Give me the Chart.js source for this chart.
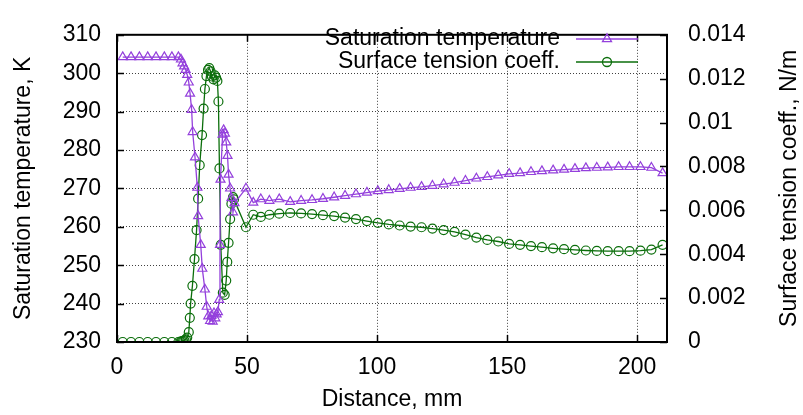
<!DOCTYPE html>
<html>
<head>
<meta charset="utf-8">
<script src="https://cdn.jsdelivr.net/npm/chart.js@4.4.0/dist/chart.umd.min.js"></script>
<style>
  html, body { margin: 0; padding: 0; background: #ffffff; }
  #wrap { width: 803px; height: 415px; }
</style>
</head>
<body>
<div id="wrap"><canvas id="chart" width="803" height="415"></canvas></div>
<script>
// Data
const satDistance = [2.2, 5.4, 8.6, 11.8, 15.0, 18.2, 21.1, 23.6, 24.6, 25.2, 25.8, 26.4, 27.0, 27.6, 28.1, 28.7, 29.1, 30.0,
  30.9, 31.2, 32.2, 32.8, 33.8, 34.5, 35.1, 35.8, 36.3, 36.8, 37.3, 37.8, 38.3, 38.8, 39.3, 39.6, 39.8, 40.6, 41.0,
  41.5, 42.0, 42.5, 42.9, 43.5, 44.0, 44.6, 45.2, 49.6, 52.4, 55.3, 58.6, 62.4, 66.6, 70.8, 75.0, 79.2, 83.5, 87.7,
  91.9, 96.1, 100.3, 104.5, 108.7, 112.9, 117.1, 121.3, 125.6, 129.8, 134.0, 138.2, 142.4, 146.6, 150.8, 155.0,
  159.2, 163.4, 167.7, 171.9, 176.1, 180.3, 184.5, 188.7, 192.9, 197.1, 201.3, 205.5, 209.8];
const satTemperature = [304.2, 304.2, 304.2, 304.2, 304.2, 304.2, 304.2, 304.2, 303.6, 302.6, 301.8, 300.9, 299.6, 297.6, 294.7, 290.5, 284.7, 278.1,
  270.2, 262.8, 255.3, 249.1, 243.7, 239.2, 236.7, 235.5, 236.8, 235.3, 237.5, 236.2, 237.2, 237.8, 241.0, 255.3, 272.3, 284.0, 285.2,
  284.3, 282.0, 278.5, 273.6, 270.0, 267.5, 263.8, 266.2, 270.0, 266.3, 267.2, 266.8, 267.2, 266.5, 266.8, 267.0, 267.3, 267.7, 268.1,
  268.5, 268.9, 269.3, 269.6, 269.9, 270.2, 270.4, 270.7, 271.1, 271.5, 272.0, 272.6, 273.0, 273.4, 273.8, 274.0,
  274.3, 274.5, 274.7, 274.9, 275.1, 275.3, 275.4, 275.5, 275.6, 275.6, 275.6, 275.4, 274.0];

const stDistance = [2.2, 5.4, 8.6, 11.8, 15.0, 18.2, 21.1, 23.6, 24.4, 24.9, 25.4, 25.9, 26.5, 27.0, 27.6, 28.0, 28.3, 29.0,
  29.8, 30.6, 31.2, 31.8, 32.7, 33.3, 33.8, 34.4, 35.0, 35.5, 36.0, 36.5, 37.1, 37.6, 38.1, 38.6, 39.0, 39.4, 39.9,
  40.7, 41.4, 42.0, 42.4, 42.9, 43.5, 44.0, 44.6, 45.0, 49.6, 52.4, 55.3, 58.6, 62.4, 66.6, 70.8, 75.0, 79.2, 83.5, 87.7,
  91.9, 96.1, 100.3, 104.5, 108.7, 112.9, 117.1, 121.3, 125.6, 129.8, 134.0, 138.2, 142.4, 146.6, 150.8, 155.0,
  159.2, 163.4, 167.7, 171.9, 176.1, 180.3, 184.5, 188.7, 192.9, 197.1, 201.3, 205.5, 209.8];
const stCoeff = [0, 0, 0, 0, 0, 0, 0, 0, 0.00002, 0.00003, 0.00005, 0.00008, 0.00012, 0.0002, 0.00045, 0.0011, 0.00175, 0.00256,
  0.00378, 0.0051, 0.00653, 0.00806, 0.00943, 0.01064, 0.01153, 0.01212, 0.0124, 0.01248, 0.01233, 0.0121, 0.01197, 0.01215, 0.01205, 0.0119, 0.01096, 0.00791, 0.00443,
  0.00225, 0.00215, 0.0028, 0.00365, 0.00452, 0.0056, 0.0063, 0.0066, 0.0065, 0.00523, 0.0058, 0.0057, 0.0058, 0.00585, 0.00588, 0.00586, 0.00583, 0.00578, 0.00574, 0.00567,
  0.0056, 0.00551, 0.00543, 0.00536, 0.00531, 0.00526, 0.00523, 0.00517, 0.0051, 0.00502, 0.00489, 0.00476, 0.00465, 0.00458, 0.00447, 0.00443,
  0.00437, 0.00432, 0.00427, 0.00423, 0.0042, 0.00417, 0.00415, 0.00414, 0.00414, 0.00414, 0.00416, 0.00421, 0.00443];

const xTickValues = [0, 50, 100, 150, 200];
const yTickValues = [230, 240, 250, 260, 270, 280, 290, 300, 310];
const y2TickValues = [0, 0.002, 0.004, 0.006, 0.008, 0.01, 0.012, 0.014];

const seriesLabels = ["Saturation temperature", "Surface tension coeff."];
const xTitle = "Distance, mm";
const yTitle = "Saturation temperature, K";
const y2Title = "Surface tension coeff., N/m";

const purple = "#9440dc";
const green = "#0b6e0b";
const fontFamily = "'Liberation Sans', Arial, Helvetica, sans-serif";
const fontSize = 23;

// Draws an open marker the same way for plot and legend
function drawMarker(ctx, style, x, y, r) {
  ctx.beginPath();
  if (style === "circle") {
    ctx.arc(x, y, r, 0, 2 * Math.PI);
  } else {
    ctx.moveTo(x, y - r);
    ctx.lineTo(x + r * 0.866, y + r * 0.5);
    ctx.lineTo(x - r * 0.866, y + r * 0.5);
    ctx.closePath();
  }
  ctx.stroke();
}

/**********************************************************/
/*    Frame, inward ticks, axis titles and key (gnuplot)  */
/**********************************************************/
const gnuplotLook = {
  id: "gnuplotLook",
  afterDraw(chart) {
    const ctx = chart.ctx;
    const area = chart.chartArea;
    const xs = chart.scales.x, ys = chart.scales.y, y2s = chart.scales.y2;
    ctx.save();

    // inward tick marks
    ctx.strokeStyle = "#000";
    ctx.lineWidth = 1.5;
    ctx.beginPath();
    xTickValues.forEach(v => {
      const px = Math.round(xs.getPixelForValue(v)) + 0.5;
      ctx.moveTo(px, area.bottom); ctx.lineTo(px, area.bottom - 7);
      ctx.moveTo(px, area.top); ctx.lineTo(px, area.top + 7);
    });
    yTickValues.forEach(v => {
      const py = Math.round(ys.getPixelForValue(v)) + 0.5;
      ctx.moveTo(area.left, py); ctx.lineTo(area.left + 7, py);
    });
    y2TickValues.forEach(v => {
      const py = Math.round(y2s.getPixelForValue(v)) + 0.5;
      ctx.moveTo(area.right, py); ctx.lineTo(area.right - 7, py);
    });
    ctx.stroke();

    // frame
    ctx.lineWidth = 2;
    ctx.strokeRect(area.left, area.top, area.right - area.left, area.bottom - area.top);

    // axis titles
    ctx.fillStyle = "#000";
    ctx.font = fontSize + "px " + fontFamily;
    ctx.textAlign = "center";
    ctx.textBaseline = "middle";
    ctx.fillText(xTitle, (area.left + area.right) / 2, 400);
    ctx.save();
    ctx.translate(24, (area.top + area.bottom) / 2);
    ctx.rotate(-Math.PI / 2);
    ctx.fillText(yTitle, 0, 0);
    ctx.restore();
    ctx.save();
    ctx.translate(790, (area.top + area.bottom) / 2);
    ctx.rotate(-Math.PI / 2);
    ctx.fillText(y2Title, 0, 0);
    ctx.restore();

    // key, top right inside the plot
    const rows = [
      { label: seriesLabels[0], color: purple, style: "triangle", y: 39 },
      { label: seriesLabels[1], color: green, style: "circle", y: 62 }
    ];
    rows.forEach(row => {
      ctx.fillStyle = "#000";
      ctx.textAlign = "right";
      ctx.fillText(row.label, 560, row.y);
      ctx.strokeStyle = row.color;
      ctx.lineWidth = 1.3;
      ctx.beginPath();
      ctx.moveTo(576, row.y); ctx.lineTo(638, row.y);
      ctx.stroke();
      drawMarker(ctx, row.style, 607, row.y, row.style === "circle" ? 4.5 : 5.2);
    });
    ctx.restore();
  }
};

const tickFont = { family: fontFamily, size: fontSize };
const gridDots = { color: "rgba(0,0,0,0.75)", lineWidth: 1, drawTicks: false };

var chart = new Chart(document.getElementById("chart"), {
  type: "scatter",
  data: {
    datasets: [
      {
        label: seriesLabels[0],
        data: satDistance.map((d, i) => ({ x: d, y: satTemperature[i] })),
        yAxisID: "y",
        showLine: true,
        borderColor: purple,
        borderWidth: 1.3,
        pointStyle: "triangle",
        pointRadius: 5.2,
        pointBorderWidth: 1.2,
        pointBorderColor: purple,
        pointBackgroundColor: "rgba(0,0,0,0)",
        tension: 0
      },
      {
        label: seriesLabels[1],
        data: stDistance.map((d, i) => ({ x: d, y: stCoeff[i] })),
        yAxisID: "y2",
        showLine: true,
        borderColor: green,
        borderWidth: 1.3,
        pointStyle: "circle",
        pointRadius: 4.5,
        pointBorderWidth: 1.2,
        pointBorderColor: green,
        pointBackgroundColor: "rgba(0,0,0,0)",
        tension: 0
      }
    ]
  },
  options: {
    responsive: false,
    animation: false,
    devicePixelRatio: 1,
    layout: { padding: { top: 20, left: 0, right: 0, bottom: 0 } },
    plugins: { legend: { display: false }, tooltip: { enabled: false } },
    scales: {
      x: {
        type: "linear",
        position: "bottom",
        min: 0,
        max: 211.5,
        afterBuildTicks: s => { s.ticks = xTickValues.map(v => ({ value: v })); },
        afterFit: s => { s.height = 73; },
        ticks: { font: tickFont, color: "#000", padding: 12, maxRotation: 0 },
        grid: gridDots,
        border: { display: false, dash: [1, 2] }
      },
      y: {
        type: "linear",
        position: "left",
        min: 230,
        max: 310,
        afterBuildTicks: s => { s.ticks = yTickValues.map(v => ({ value: v })); },
        afterFit: s => { s.width = 117; },
        ticks: { font: tickFont, color: "#000", padding: 16 },
        grid: gridDots,
        border: { display: false, dash: [1, 2] }
      },
      y2: {
        type: "linear",
        position: "right",
        min: 0,
        max: 0.014,
        afterBuildTicks: s => { s.ticks = y2TickValues.map(v => ({ value: v })); },
        afterFit: s => { s.width = 136; },
        ticks: {
          font: tickFont, color: "#000", padding: 21,
          callback: v => String(Number(v.toFixed(3)))
        },
        grid: { drawOnChartArea: false, drawTicks: false },
        border: { display: false }
      }
    }
  },
  plugins: [gnuplotLook]
});
</script>
</body>
</html>
